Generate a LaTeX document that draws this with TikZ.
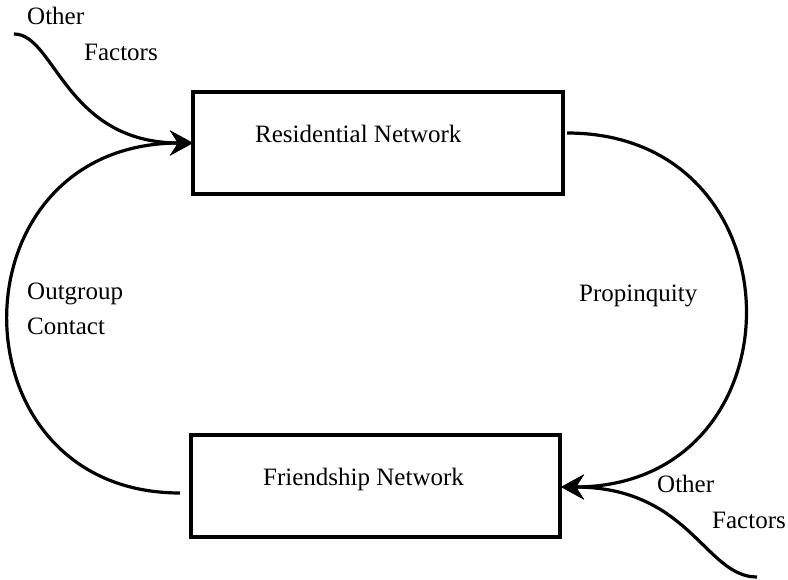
\documentclass[tikz,border=0pt]{standalone}
\usepackage{fontspec}
\setmainfont{Liberation Serif}
\usetikzlibrary{arrows.meta}
\begin{document}
\begin{tikzpicture}[x=1pt,y=-1pt,
  box/.style={draw,line width=3.5pt,rectangle,inner sep=0pt},
  lbl/.style={anchor=base west,inner sep=0pt,font=\fontsize{25}{30}\selectfont},
  conn/.style={line width=3.2pt,-{Stealth[length=23pt,width=25pt,inset=8pt]}}]
\useasboundingbox (0,0) rectangle (788,580);
% boxes
\node[box,minimum width=370pt,minimum height=102pt] (R) at (378,143) {};
\node[box,minimum width=369pt,minimum height=102pt] (F) at (375.5,486) {};
\node[lbl] (Rt) at (255,143) {Residential Network};
\node[lbl] (Ft) at (263,485) {Friendship Network};
% anchor coordinates
\coordinate (Rin) at (193,143);
\coordinate (Rout) at (567,133);
\coordinate (Fin) at (561,487);
\coordinate (Fout) at (180,493);
\coordinate (OF1) at (14,34);
\coordinate (OF2) at (757,577);
% connectors
\draw[conn] (Fout) .. controls (-51,493) and (-51,143) .. (Rin);
\draw[conn] (OF1) .. controls (55,34) and (65,143) .. (Rin);
\draw[conn] (Rout) .. controls (805,133) and (805,487) .. (Fin);
\draw[conn] (OF2) .. controls (705,577) and (690,487) .. (Fin);
% labels
\node[lbl] (o1) at (27,25) {Other};
\node[lbl] (f1) at (84,61) {Factors};
\node[lbl] (og) at (27,300) {Outgroup};
\node[lbl] (ct) at (27,335) {Contact};
\node[lbl] (pr) at (579,302) {Propinquity};
\node[lbl] (o2) at (657,492) {Other};
\node[lbl] (f2) at (712,528) {Factors};
\end{tikzpicture}
\end{document}
